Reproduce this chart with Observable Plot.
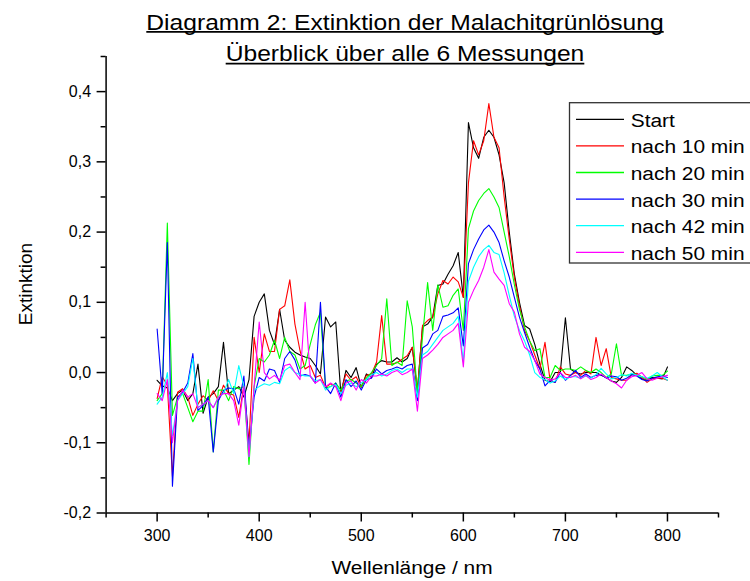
<!DOCTYPE html>
<html>
<head>
<meta charset="utf-8">
<script src="https://cdn.jsdelivr.net/npm/d3@7"></script>
<script src="https://cdn.jsdelivr.net/npm/@observablehq/plot@0.6"></script>
<style>
  html, body { margin: 0; padding: 0; background: white; overflow: hidden; }
  #chart { width: 750px; height: 581px; }
</style>
</head>
<body>
<div id="chart"></div>
<script>
const FONT = "'Liberation Sans', Arial, sans-serif";

// Wavelengths (nm), 300..800 in 5 nm steps
const wavelengths = d3.range(300, 801, 5);

const seriesNames = ["Start", "nach 10 min", "nach 20 min", "nach 30 min", "nach 42 min", "nach 50 min"];
const seriesColors = ["#000000", "#ff0000", "#00ff00", "#0000ff", "#00ffff", "#ff00ff"];

const start = [
  -0.011, -0.019, -0.022, -0.04, -0.03, -0.025, -0.04, -0.03, 0.012, -0.058,
  -0.035, -0.03, -0.02, 0.043, -0.03, -0.025, -0.02, -0.035, -0.01, 0.08,
  0.1, 0.112, 0.06, 0.04, 0.09, 0.046, 0.036, 0.029, 0.025, 0.022,
  0.02, 0.01, -0.002, 0.079, 0.065, 0.072, -0.03, 0.003, -0.007, 0.007,
  -0.021, -0.002, -0.007, 0.012, 0.017, 0.015, 0.015, 0.021, 0.015, 0.02,
  0.036, -0.026, 0.065, 0.069, 0.079, 0.124, 0.126, 0.14, 0.152, 0.171,
  0.107, 0.356, 0.32, 0.305, 0.335, 0.345, 0.335, 0.31, 0.27, 0.2,
  0.14, 0.1, 0.067, 0.062, 0.04, 0.012, -0.011, -0.013, 0.0, 0.0,
  0.078, 0.005, 0.0, -0.002, 0.0, 0.0, 0.0, -0.004, -0.007, -0.012,
  -0.014, -0.007, 0.008, 0.003, -0.004, -0.009, -0.011, -0.007, -0.008, -0.009,
  0.008
];
const min10 = [
  -0.037, -0.006, -0.018, -0.148, -0.028, -0.023, -0.035, -0.061, -0.045, -0.033,
  -0.04, -0.026, -0.04, -0.018, -0.03, -0.032, -0.064, -0.018, -0.1, 0.05,
  0.0, 0.055, 0.03, 0.03, 0.09, 0.095, 0.132, 0.069, 0.031, 0.005,
  0.01, -0.007, -0.004, -0.021, -0.016, -0.02, -0.028, -0.002, -0.011, -0.006,
  -0.021, -0.004, -0.002, 0.015, 0.081, 0.012, 0.012, 0.014, 0.019, 0.024,
  0.036, -0.026, 0.067, 0.074, 0.079, 0.112, 0.131, 0.126, 0.136, 0.129,
  0.107, 0.27, 0.33, 0.31, 0.33, 0.383, 0.335, 0.32, 0.25, 0.19,
  0.135, 0.095, 0.06, 0.045, 0.025, 0.005, 0.043, -0.011, -0.014, 0.008,
  -0.002, -0.004, 0.0, -0.004, 0.003, -0.002, 0.05, 0.01, 0.034, -0.007,
  -0.009, -0.011, -0.011, -0.003, -0.001, -0.007, -0.014, -0.009, -0.008, -0.008,
  -0.011
];
const min20 = [
  -0.04, -0.03, 0.213, -0.061, -0.035, -0.03, -0.05, -0.07, -0.055, -0.055,
  -0.01, -0.113, -0.025, -0.025, -0.04, -0.02, -0.023, -0.02, -0.131, -0.02,
  0.02, 0.015, 0.025, 0.046, 0.02, 0.05, 0.03, 0.025, 0.005, 0.01,
  0.04, 0.068, 0.086, -0.022, -0.02, -0.015, -0.025, -0.012, -0.01, -0.015,
  -0.02, -0.008, 0.0, 0.01, 0.02, 0.105, 0.01, 0.015, 0.01, 0.102,
  0.065, -0.03, 0.05, 0.128, 0.06, 0.125, 0.093, 0.095, 0.11, 0.119,
  0.06, 0.205, 0.23, 0.245, 0.255, 0.262, 0.25, 0.235, 0.2, 0.165,
  0.125, 0.09, 0.065, 0.045, 0.031, 0.034, -0.007, -0.007, 0.01, 0.003,
  0.005, 0.005, 0.003, 0.008, 0.003, 0.0, 0.005, 0.0, -0.007, -0.002,
  0.041, -0.004, -0.004, -0.002, -0.003, -0.006, -0.01, -0.005, -0.004, -0.004,
  0.002
];
const min30 = [
  0.062, -0.03, 0.185, -0.162, -0.035, -0.028, -0.015, 0.027, -0.054, -0.047,
  -0.035, -0.113, -0.04, -0.026, -0.022, -0.023, -0.045, -0.005, -0.11, -0.035,
  -0.007, -0.012, 0.005, 0.003, -0.014, 0.02, 0.03, 0.018, -0.005, -0.003,
  -0.005, -0.015, 0.1, -0.02, -0.03, -0.015, -0.035, -0.01, -0.02, -0.012,
  -0.025, -0.01, -0.008, 0.005, -0.002, 0.003, 0.005, 0.008, 0.005, 0.01,
  0.012, -0.04, 0.035, 0.04, 0.055, 0.06, 0.08, 0.082, 0.085, 0.092,
  0.038, 0.155, 0.175, 0.19, 0.203, 0.21, 0.2, 0.185, 0.159, 0.136,
  0.107, 0.079, 0.057, 0.036, 0.017, 0.005, -0.019, -0.011, -0.014, 0.0,
  -0.011, -0.004, 0.003, -0.007, -0.002, -0.007, -0.004, -0.003, -0.008, -0.005,
  -0.006, -0.011, -0.008, -0.003, -0.005, -0.01, -0.012, -0.008, -0.006, -0.005,
  -0.007
];
const min42 = [
  -0.045, -0.035, 0.0, -0.09, -0.04, -0.03, -0.02, 0.02, -0.05, -0.045,
  -0.04, -0.05, -0.035, -0.03, -0.01, -0.03, 0.01, -0.02, -0.12, -0.025,
  -0.02, -0.016, -0.018, -0.014, -0.016, 0.003, 0.008, 0.0, -0.003, -0.005,
  -0.005, -0.012, -0.01, -0.025, -0.02, -0.017, -0.03, -0.018, -0.015, -0.02,
  -0.015, -0.01, -0.003, 0.0, -0.005, -0.002, 0.003, 0.005, 0.0, 0.005,
  0.005, -0.035, 0.025, 0.03, 0.04, 0.05, 0.06, 0.065, 0.07, 0.08,
  0.015, 0.13, 0.15, 0.165, 0.175, 0.181, 0.171, 0.168, 0.142, 0.11,
  0.08, 0.06, 0.045, 0.025, 0.0, -0.007, -0.01, -0.015, -0.012, -0.005,
  -0.01, -0.006, -0.006, -0.008, -0.005, -0.008, -0.003, 0.006, -0.002, -0.009,
  -0.007, -0.003, -0.005, -0.001, -0.004, -0.006, -0.008, -0.005, 0.0, -0.006,
  -0.011
];
const min50 = [
  -0.03, -0.04, -0.01, -0.1, -0.04, -0.025, -0.035, -0.03, -0.05, -0.045,
  -0.04, -0.05, -0.035, -0.03, -0.03, -0.04, -0.075, -0.02, -0.12, -0.02,
  0.072, 0.0, -0.009, -0.004, -0.011, 0.01, 0.012, 0.0, -0.01, 0.1,
  -0.005, -0.015, -0.01, -0.02, -0.015, -0.02, -0.04, -0.015, -0.012, -0.025,
  -0.01, -0.015, -0.005, -0.005, -0.002, -0.005, 0.0, 0.003, -0.003, 0.0,
  0.005, -0.055, 0.02, 0.025, 0.032, 0.04, 0.05, 0.055, 0.06, 0.07,
  0.008, 0.1, 0.117, 0.131, 0.15, 0.175, 0.143, 0.133, 0.124, 0.098,
  0.086, 0.055, 0.036, 0.03, 0.017, -0.002, -0.007, -0.011, -0.009, 0.0,
  -0.007, -0.007, -0.004, -0.009, -0.004, -0.01, -0.007, -0.002, -0.007, -0.012,
  -0.016, -0.022, -0.011, -0.006, -0.004, 0.0, -0.009, -0.011, -0.008, -0.006,
  -0.004
];

const xMajorTicks = [300, 400, 500, 600, 700, 800];
const xMinorTicks = [250, 350, 450, 550, 650, 750, 850];
const yMajorTicks = [-0.2, -0.1, 0.0, 0.1, 0.2, 0.3, 0.4];
const yMinorTicks = [-0.15, -0.05, 0.05, 0.15, 0.25, 0.35, 0.45];

const titleLines = ["Diagramm 2: Extinktion der Malachitgrünlösung", "Überblick über alle 6 Messungen"];
const xLabel = "Wellenlänge / nm";
const yLabel = "Extinktion";

const allSeries = [start, min10, min20, min30, min42, min50];
const data = seriesNames.flatMap((name, k) =>
  allSeries[k].map((v, i) => ({nm: wavelengths[i], ext: v, series: name}))
);

const fmtY = d => (Math.abs(d) < 1e-9 ? "0,0" : d.toFixed(1).replace(".", ","));

const svg = Plot.plot({
  width: 750,
  height: 581,
  marginLeft: 105.6,
  marginRight: 32,
  marginTop: 56,
  marginBottom: 68.5,
  style: {fontFamily: FONT, background: "white", color: "black"},
  x: {domain: [250, 850]},
  y: {domain: [-0.2, 0.45]},
  color: {domain: seriesNames, range: seriesColors},
  marks: [
    Plot.axisX({ticks: xMajorTicks, tickSize: 9, tickPadding: 8, fontSize: 16, strokeWidth: 1.5, tickFormat: d => String(d), label: null}),
    Plot.axisX({ticks: xMinorTicks, tickSize: 5, strokeWidth: 1.5, tickFormat: () => "", label: null}),
    Plot.axisY({ticks: yMajorTicks, tickSize: 9, tickPadding: 6, fontSize: 16, strokeWidth: 1.5, tickFormat: fmtY, label: null}),
    Plot.axisY({ticks: yMinorTicks, tickSize: 5, strokeWidth: 1.5, tickFormat: () => "", label: null}),
    Plot.ruleX([250], {stroke: "black", strokeWidth: 1.5}),
    Plot.ruleY([-0.2], {stroke: "black", strokeWidth: 1.5}),
    Plot.line(data, {x: "nm", y: "ext", z: "series", stroke: "series", strokeWidth: 1.1})
  ]
});

document.getElementById("chart").appendChild(svg);

const root = d3.select(svg);
const g = root.append("g").attr("style", `font-family: ${FONT};`).attr("fill", "black");

// Title (underlined)
titleLines.forEach((t, i) => {
  const tg = g.append("g").attr("transform", `translate(405, ${29.5 + 31.8 * i}) scale(1.12, 1)`);
  const txt = tg.append("text").attr("text-anchor", "middle").attr("font-size", 22).text(t);
  const w = txt.node().getComputedTextLength();
  tg.append("line").attr("x1", -w / 2).attr("x2", w / 2).attr("y1", 2.3).attr("y2", 2.3)
    .attr("stroke", "black").attr("stroke-width", 1.7);
});

// Axis labels
g.append("text").attr("transform", "translate(412, 574) scale(1.1, 1)")
  .attr("text-anchor", "middle").attr("font-size", 19).text(xLabel);
g.append("text").attr("transform", "translate(32, 284) rotate(-90)")
  .attr("text-anchor", "middle").attr("font-size", 19).text(yLabel);

// Legend
const lg = g.append("g");
lg.append("rect").attr("x", 569.5).attr("y", 102.7).attr("width", 200).attr("height", 160.3)
  .attr("fill", "white").attr("stroke", "#333").attr("stroke-width", 1.3);
seriesNames.forEach((name, k) => {
  const yy = 119.3 + 26.6 * k;
  lg.append("line").attr("x1", 576).attr("x2", 624).attr("y1", yy).attr("y2", yy)
    .attr("stroke", seriesColors[k]).attr("stroke-width", 1.3);
  lg.append("text").attr("transform", `translate(630.7, ${126.7 + 26.6 * k}) scale(1.1, 1)`)
    .attr("text-anchor", "start").attr("font-size", 19).text(name);
});
</script>
</body>
</html>
